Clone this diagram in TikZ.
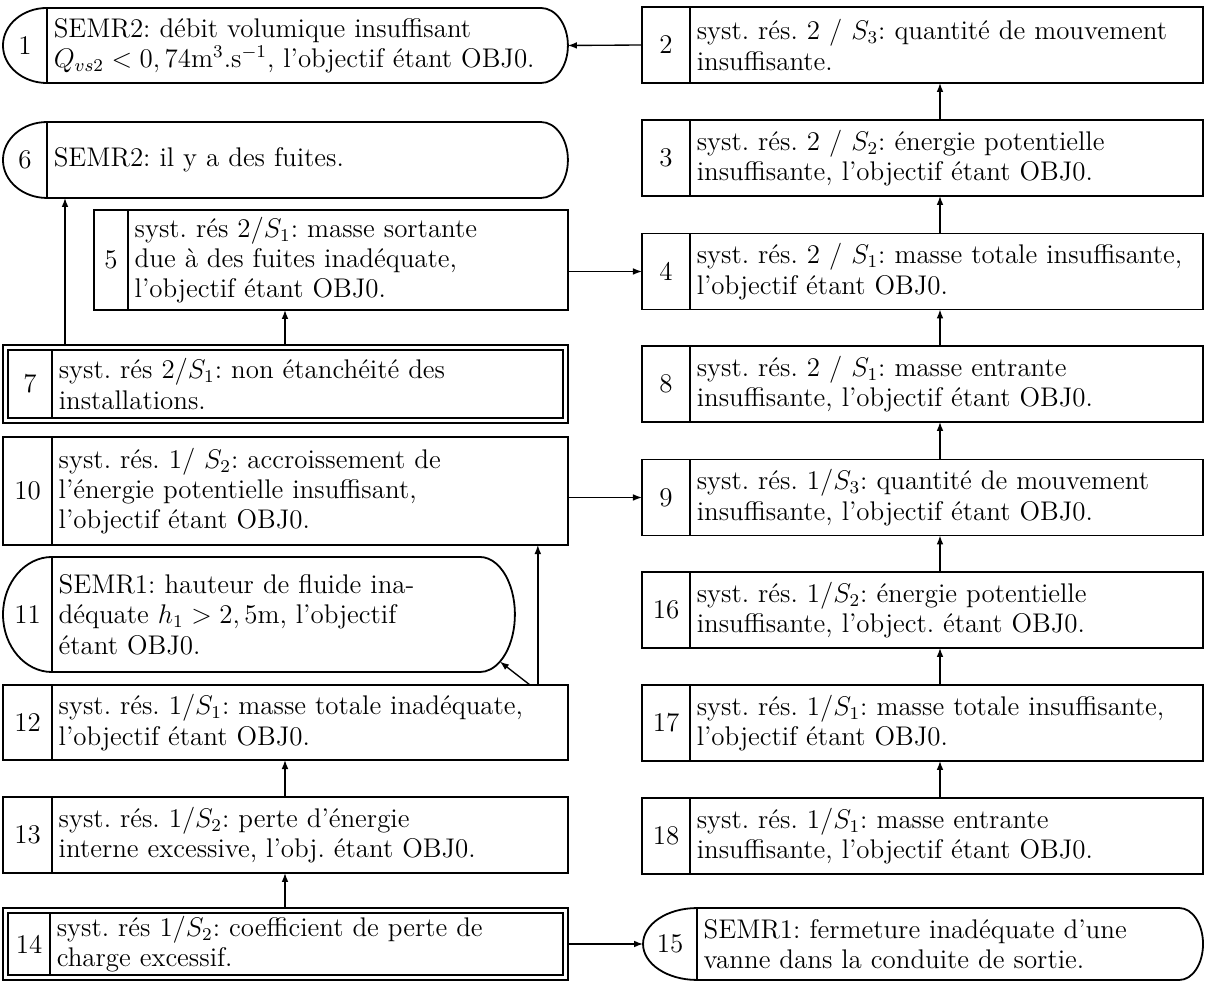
\documentclass[tikz,border=0pt]{standalone}
\usepackage{tikz}
\usetikzlibrary{positioning,fit,arrows.meta}
\frenchspacing

\begin{document}
\begin{tikzpicture}[
  x=0.445pt, y=0.445pt, line width=0.8pt,
  every node/.style={font=\fontsize{12}{13.5}\selectfont},
  num/.style={draw,inner sep=0pt,outer sep=0pt,minimum width=21.8pt,minimum height=33.6pt},
  ltxt/.style={draw,inner xsep=3pt,inner ysep=0pt,outer sep=0pt,align=left,
               text width=223.6pt,minimum height=33.6pt},
  rtxt/.style={ltxt,text width=222.3pt},
  arr/.style={-{Latex[length=4pt,width=3pt]},line width=0.6pt}
]
\useasboundingbox (0,0) rectangle (1208,-982);

% left column
\node[num,draw=none,minimum width=19.6pt,minimum height=33.4pt] (n1) at (25,-45.5) {1};
\node[ltxt,draw=none,text width=225.8pt,minimum height=33.4pt,right=0pt of n1] (b1)
  {SEMR2: débit volumique insuffisant\\$Q_{vs2} < 0,74$m$^3$.s$^{-1}$, l'objectif étant OBJ0.};
\node[num,draw=none,minimum width=19.6pt,minimum height=33.8pt] (n6) at (25,-160) {6};
\node[ltxt,draw=none,text width=225.8pt,minimum height=33.8pt,right=0pt of n6] (b6)
  {SEMR2: il y a des fuites.};
\node[num,minimum width=15.1pt,minimum height=44.5pt] (n5) at (111,-260) {5};
\node[ltxt,text width=189.8pt,minimum height=44.5pt,right=0pt of n5] (b5)
  {syst. rés $2/S_1$: masse sortante\\due à des fuites inadéquate,\\l'objectif étant OBJ0.};
\node[num,minimum width=19.6pt,minimum height=30.3pt] (n7) at (30,-384) {7};
\node[ltxt,text width=221.4pt,minimum height=30.3pt,right=0pt of n7] (b7)
  {syst. rés $2/S_1$: non étanchéité des\\installations.};
\node[draw,fit=(n7)(b7),inner sep=2.2pt] (o7) {};
\node[num,minimum height=48.1pt] (n10) at (27.5,-491) {10};
\node[ltxt,minimum height=48.1pt,right=0pt of n10] (b10)
  {syst. rés. 1/ $S_2$: accroissement de\\l'énergie potentielle insuffisant,\\l'objectif étant OBJ0.};
\node[num,draw=none,minimum height=51.2pt] (n11) at (27.5,-614.5) {11};
\node[ltxt,draw=none,text width=200pt,minimum height=51.2pt,right=0pt of n11] (b11)
  {SEMR1: hauteur de fluide ina-\\déquate $h_1 > 2,5$m, l'objectif\\étant OBJ0.};
\node[num,minimum height=33.4pt] (n12) at (27.5,-722.5) {12};
\node[ltxt,minimum height=33.4pt,right=0pt of n12] (b12)
  {syst. rés. $1/S_1$: masse totale inadéquate,\\l'objectif étant OBJ0.};
\node[num,minimum height=33.8pt] (n13) at (27.5,-835) {13};
\node[ltxt,minimum height=33.8pt,right=0pt of n13] (b13)
  {syst. rés. $1/S_2$: perte d'énergie\\interne excessive, l'obj. étant OBJ0.};
\node[num,minimum width=18.7pt,minimum height=27.6pt] (n14) at (29,-944) {14};
\node[ltxt,text width=222.3pt,minimum height=27.6pt,right=0pt of n14] (b14)
  {syst. rés $1/S_2$: coefficient de perte de\\charge excessif.};
\node[draw,fit=(n14)(b14),inner sep=2.2pt] (o14) {};

% right column
\node[num,minimum width=21.4pt,minimum height=33.8pt] (n2) at (666,-45) {2};
\node[rtxt,minimum height=33.8pt,right=0pt of n2] (b2)
  {syst. rés. 2 / $S_3$: quantité de mouvement\\insuffisante.};
\node[num,minimum width=21.4pt,minimum height=33.8pt] (n3) at (666,-158) {3};
\node[rtxt,minimum height=33.8pt,right=0pt of n3] (b3)
  {syst. rés. 2 / $S_2$: énergie potentielle\\insuffisante, l'objectif étant OBJ0.};
\node[num,minimum width=21.4pt,minimum height=33.8pt] (n4) at (666,-271.5) {4};
\node[rtxt,minimum height=33.8pt,right=0pt of n4] (b4)
  {syst. rés. 2 / $S_1$: masse totale insuffisante,\\l'objectif étant OBJ0.};
\node[num,minimum width=21.4pt,minimum height=33.8pt] (n8) at (666,-384) {8};
\node[rtxt,minimum height=33.8pt,right=0pt of n8] (b8)
  {syst. rés. 2 / $S_1$: masse entrante\\insuffisante, l'objectif étant OBJ0.};
\node[num,minimum width=21.4pt,minimum height=33.8pt] (n9) at (666,-497.5) {9};
\node[rtxt,minimum height=33.8pt,right=0pt of n9] (b9)
  {syst. rés. $1/S_3$: quantité de mouvement\\insuffisante, l'objectif étant OBJ0.};
\node[num,minimum width=21.4pt,minimum height=33.8pt] (n16) at (666,-610) {16};
\node[rtxt,minimum height=33.8pt,right=0pt of n16] (b16)
  {syst. rés. $1/S_2$: énergie potentielle\\insuffisante, l'object. étant OBJ0.};
\node[num,minimum width=21.4pt,minimum height=33.8pt] (n17) at (666,-723) {17};
\node[rtxt,minimum height=33.8pt,right=0pt of n17] (b17)
  {syst. rés. $1/S_1$: masse totale insuffisante,\\l'objectif étant OBJ0.};
\node[num,minimum width=21.4pt,minimum height=33.8pt] (n18) at (666,-836) {18};
\node[rtxt,minimum height=33.8pt,right=0pt of n18] (b18)
  {syst. rés. $1/S_1$: masse entrante\\insuffisante, l'objectif étant OBJ0.};
\node[num,draw=none,minimum width=24pt,minimum height=32pt] (n15) at (670,-944) {15};
\node[rtxt,draw=none,text width=219.2pt,minimum height=32pt,right=0pt of n15] (b15)
  {SEMR1: fermeture inadéquate d'une\\vanne dans la conduite de sortie.};

% rounded frames
\draw (n1.north east) arc[start angle=90,end angle=270,x radius=19.6pt,y radius=16.7pt]
  -- ([xshift=-12pt]b1.south east) arc[start angle=-90,end angle=90,x radius=12pt,y radius=16.7pt] -- cycle;
\draw (n1.north east) -- (n1.south east);
\draw (n6.north east) arc[start angle=90,end angle=270,x radius=19.6pt,y radius=16.9pt]
  -- ([xshift=-12pt]b6.south east) arc[start angle=-90,end angle=90,x radius=12pt,y radius=16.9pt] -- cycle;
\draw (n6.north east) -- (n6.south east);
\draw (n11.north east) arc[start angle=90,end angle=270,x radius=21.8pt,y radius=25.6pt]
  -- ([xshift=-15.6pt]b11.south east) arc[start angle=-90,end angle=-55,x radius=15.6pt,y radius=25.6pt]
  coordinate (t11) arc[start angle=-55,end angle=90,x radius=15.6pt,y radius=25.6pt] -- cycle;
\draw (n11.north east) -- (n11.south east);
\draw (n15.north east) arc[start angle=90,end angle=270,x radius=24pt,y radius=16pt]
  -- ([xshift=-10.5pt]b15.south east) arc[start angle=-90,end angle=90,x radius=10.5pt,y radius=16pt] -- cycle;
\draw (n15.north east) -- (n15.south east);

% connectors
\coordinate (laxis) at (285,0);
\coordinate (raxis) at (940,0);
\coordinate (c6) at ([xshift=8pt]n6.south east);
\coordinate (c10) at ([xshift=-13.4pt]b10.south east);
\coordinate (c12) at (c10 |- b12.north);

\draw[arr] (n2.west) -- (b1.east);
\draw[arr] (raxis |- b3.north) -- (raxis |- b2.south);
\draw[arr] (raxis |- b4.north) -- (raxis |- b3.south);
\draw[arr] (raxis |- b8.north) -- (raxis |- b4.south);
\draw[arr] (raxis |- b9.north) -- (raxis |- b8.south);
\draw[arr] (raxis |- b16.north) -- (raxis |- b9.south);
\draw[arr] (raxis |- b17.north) -- (raxis |- b16.south);
\draw[arr] (raxis |- b18.north) -- (raxis |- b17.south);
\draw[arr] (b5.east |- n4.west) -- (n4.west);
\draw[arr] (laxis |- o7.north) -- (laxis |- b5.south);
\draw[arr] (c6 |- o7.north) -- (c6);
\draw[arr] (b10.east |- n9.west) -- (n9.west);
\draw[arr] (c12) -- (c10);
\draw[arr] ([xshift=-3.5pt]c12) -- (t11);
\draw[arr] (laxis |- b13.north) -- (laxis |- b12.south);
\draw[arr] (laxis |- o14.north) -- (laxis |- b13.south);
\draw[arr] (o14.east |- n15.west) -- (n15.west);
\end{tikzpicture}
\end{document}
